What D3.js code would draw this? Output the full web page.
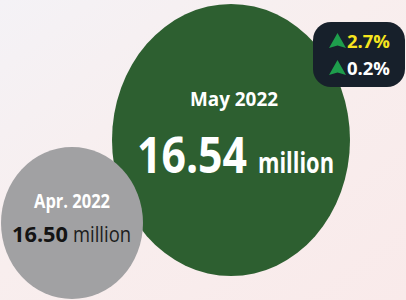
<!DOCTYPE html>
<html>
<head>
<meta charset="utf-8">
<script src="https://cdn.jsdelivr.net/npm/d3@7"></script>
<style>
  html, body { margin: 0; padding: 0; background: #f8eeee; }
  svg { display: block; }
</style>
</head>
<body>
<svg id="chart"></svg>
<script>
const width = 406;
const height = 300;

// data
const periods = ["Apr. 2022", "May 2022"];
const values = [16.50, 16.54];
const unit = "million";
const changes = ["2.7%", "0.2%"];

const svg = d3.select("#chart")
    .attr("width", width)
    .attr("height", height);

// background wash
const defs = svg.append("defs");
const bg = defs.append("linearGradient")
    .attr("id", "bg")
    .attr("x1", 0).attr("y1", 0)
    .attr("x2", 1).attr("y2", 1);
bg.append("stop").attr("offset", "0%").attr("stop-color", "#f4f2f6");
bg.append("stop").attr("offset", "45%").attr("stop-color", "#f8eeee");
bg.append("stop").attr("offset", "100%").attr("stop-color", "#f9eaea");

svg.append("rect")
    .attr("width", width)
    .attr("height", height)
    .attr("fill", "url(#bg)");

// bubbles are not to scale in the original, so map the two values onto layout ranges
const extent = d3.extent(values);
const cx = d3.scaleLinear().domain(extent).range([72, 231]);
const cy = d3.scaleLinear().domain(extent).range([223, 140]);
const rx = d3.scaleLinear().domain(extent).range([71, 119]);
const ry = d3.scaleLinear().domain(extent).range([76, 136]);
const fills = ["#a1a1a3", "#2d5f30"];

// draw the larger one first so the smaller sits on top
const order = d3.range(values.length).sort((a, b) => values[b] - values[a]);

svg.selectAll("ellipse.bubble")
    .data(order)
    .join("ellipse")
    .attr("class", "bubble")
    .attr("cx", i => cx(values[i]))
    .attr("cy", i => cy(values[i]))
    .attr("rx", i => rx(values[i]))
    .attr("ry", i => ry(values[i]))
    .attr("fill", i => fills[i]);

const font = "'Open Sans', 'Noto Sans', sans-serif";

// May 2022 (latest)
const cur = values.length - 1;
const mx = cx(values[cur]) + 3;
svg.append("text")
    .attr("x", mx)
    .attr("y", 106)
    .attr("text-anchor", "middle")
    .attr("font-family", font)
    .attr("font-weight", 700)
    .attr("font-size", 20)
    .attr("textLength", 88)
    .attr("lengthAdjust", "spacingAndGlyphs")
    .attr("fill", "#ffffff")
    .text(periods[cur]);

svg.append("text")
    .attr("x", 137)
    .attr("y", 173)
    .attr("font-family", font)
    .attr("font-weight", 700)
    .attr("font-size", 50)
    .attr("textLength", 110)
    .attr("lengthAdjust", "spacingAndGlyphs")
    .attr("fill", "#ffffff")
    .text(values[cur].toFixed(2));

svg.append("text")
    .attr("x", 258)
    .attr("y", 173)
    .attr("font-family", font)
    .attr("font-weight", 700)
    .attr("font-size", 28)
    .attr("textLength", 76)
    .attr("lengthAdjust", "spacingAndGlyphs")
    .attr("fill", "#ffffff")
    .text(unit);

// Apr. 2022 (previous)
const prev = 0;
svg.append("text")
    .attr("x", cx(values[prev]))
    .attr("y", 208)
    .attr("text-anchor", "middle")
    .attr("font-family", font)
    .attr("font-weight", 700)
    .attr("font-size", 19)
    .attr("textLength", 76)
    .attr("lengthAdjust", "spacingAndGlyphs")
    .attr("fill", "#ffffff")
    .text(periods[prev]);

svg.append("text")
    .attr("x", 12)
    .attr("y", 242)
    .attr("font-family", font)
    .attr("font-weight", 700)
    .attr("font-size", 22)
    .attr("textLength", 56)
    .attr("lengthAdjust", "spacingAndGlyphs")
    .attr("fill", "#141414")
    .text(values[prev].toFixed(2));

svg.append("text")
    .attr("x", 73)
    .attr("y", 242)
    .attr("font-family", font)
    .attr("font-weight", 400)
    .attr("font-size", 22)
    .attr("textLength", 58)
    .attr("lengthAdjust", "spacingAndGlyphs")
    .attr("fill", "#1c1c1c")
    .text(unit);

// change badge
const badge = svg.append("g");
badge.append("rect")
    .attr("x", 313)
    .attr("y", 22)
    .attr("width", 92)
    .attr("height", 65)
    .attr("rx", 18)
    .attr("fill", "#17202b");

const rowY = d3.scalePoint().domain(changes).range([48, 75]);
const changeColors = ["#f6e51e", "#ffffff"];

const arrow = d3.line();
badge.selectAll("path.arrow")
    .data(changes)
    .join("path")
    .attr("class", "arrow")
    .attr("d", d => {
        const b = rowY(d);
        return arrow([[337.5, b - 15], [346, b], [337.5, b - 2.5], [329, b]]) + "Z";
    })
    .attr("fill", "#1e9e4c");

badge.selectAll("text.chg")
    .data(changes)
    .join("text")
    .attr("class", "chg")
    .attr("x", 347)
    .attr("y", d => rowY(d))
    .attr("font-family", font)
    .attr("font-weight", 700)
    .attr("font-size", 18)
    .attr("textLength", 43)
    .attr("lengthAdjust", "spacingAndGlyphs")
    .attr("fill", (d, i) => changeColors[i])
    .text(d => d);
</script>
</body>
</html>
